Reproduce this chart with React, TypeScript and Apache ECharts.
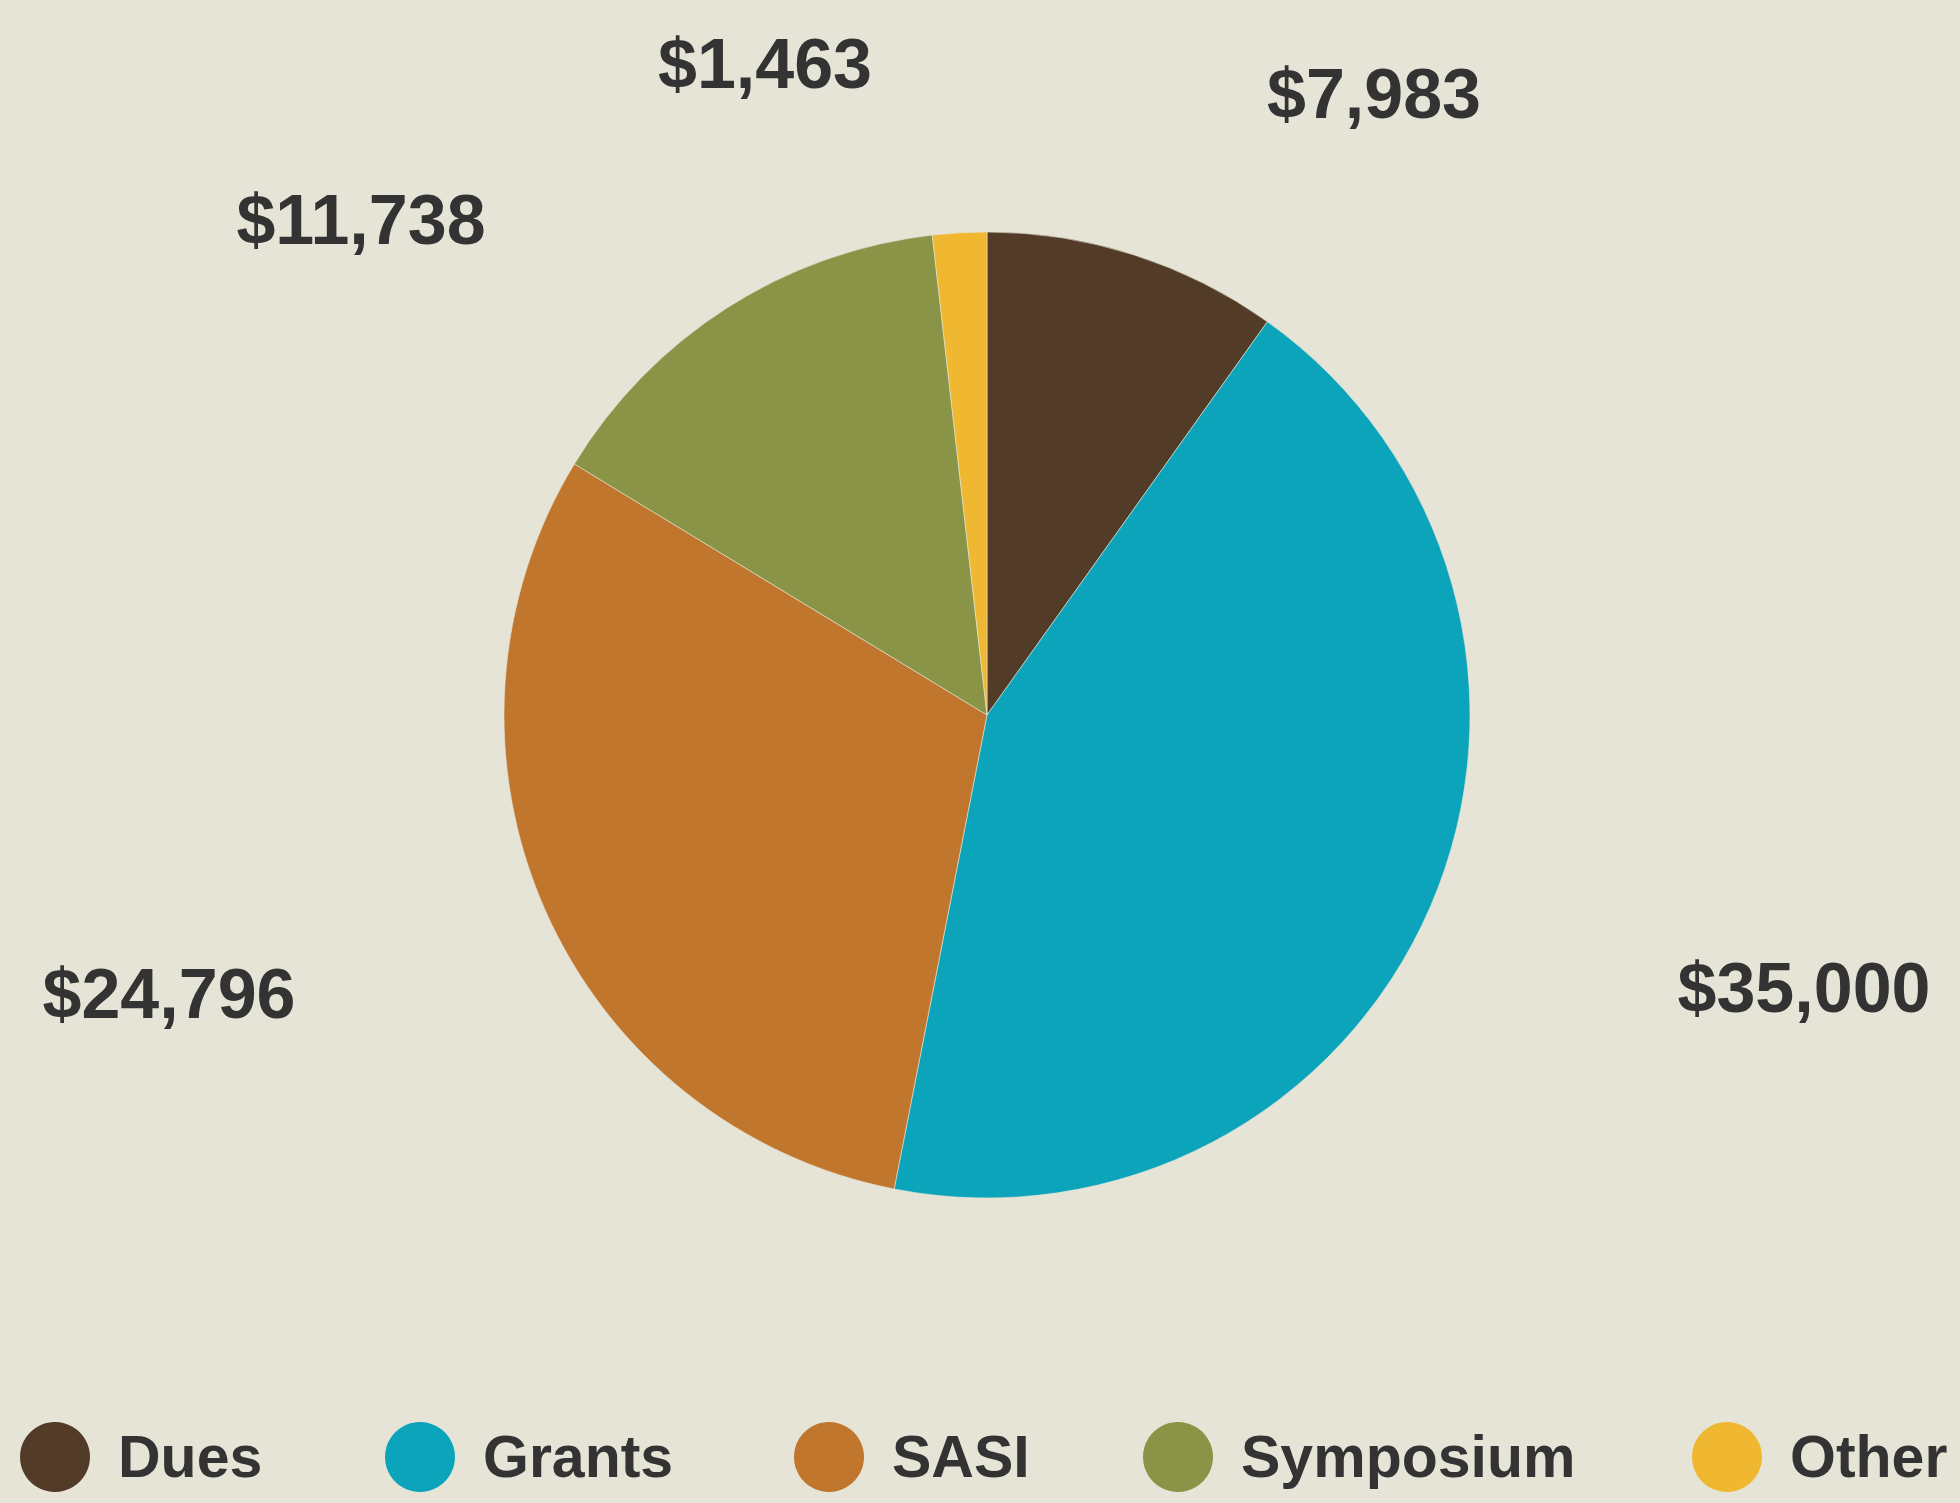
import React, { useEffect, useRef } from "react";
import * as echarts from "echarts";

const categories = ["Dues", "Grants", "SASI", "Symposium", "Other"];
const values = [7983, 35000, 24796, 11738, 1463];
const valueLabels = ["$7,983", "$35,000", "$24,796", "$11,738", "$1,463"];
const colors = ["#523c28", "#0ba4bb", "#c0762d", "#8a9447", "#f0b830"];

// label anchor positions (px) for each slice, in category order
const labelPos: Record<string, [number, number]> = {
  Dues: [1374, 94],
  Grants: [1804, 988],
  SASI: [169, 994],
  Symposium: [361, 220],
  Other: [765, 64],
};
// legend item left offsets (px)
const legendLeft: Record<string, number> = {
  Dues: 18,
  Grants: 383,
  SASI: 792,
  Symposium: 1141,
  Other: 1690,
};

export default function App() {
  const ref = useRef<HTMLDivElement>(null);
  useEffect(() => {
    if (!ref.current) return;
    const chart = echarts.init(ref.current, null, { renderer: "svg" });
    const legends = categories.map((c) => ({
      show: true,
      top: 1420,
      left: legendLeft[c],
      icon: "circle",
      itemWidth: 72,
      itemHeight: 72,
      padding: 0,
      data: [c],
      selectedMode: false,
      textStyle: {
        fontFamily: "'Liberation Sans Narrow', 'Liberation Sans', Arial, sans-serif",
        fontWeight: "bold",
        fontSize: 59,
        color: "#333333",
        padding: [0, 0, 0, 22],
      },
    }));
    chart.setOption({
      animation: false,
      backgroundColor: "#e6e4d6",
      legend: legends,
      series: [
        {
          type: "pie",
          center: [987, 715],
          radius: [0, 483],
          startAngle: 90,
          clockwise: true,
          itemStyle: { borderColor: "#e6e4d6", borderWidth: 0.6 },
          label: {
            show: true,
            formatter: (p: any) => valueLabels[p.dataIndex],
            fontFamily: "'Liberation Sans', Arial, sans-serif",
            fontWeight: "bold",
            fontSize: 70,
            color: "#333333",
          },
          labelLine: { show: false },
          labelLayout: (params: any) => {
            const name = categories[params.dataIndex];
            const pos = labelPos[name];
            return { x: pos[0], y: pos[1], align: "center", verticalAlign: "middle" };
          },
          data: categories.map((c, i) => ({
            name: c,
            value: values[i],
            itemStyle: { color: colors[i] },
          })),
        },
      ],
    });
    return () => chart.dispose();
  }, []);
  return <div ref={ref} style={{ width: 1960, height: 1503, position: "absolute", left: 0, top: 0 }} />;
}
